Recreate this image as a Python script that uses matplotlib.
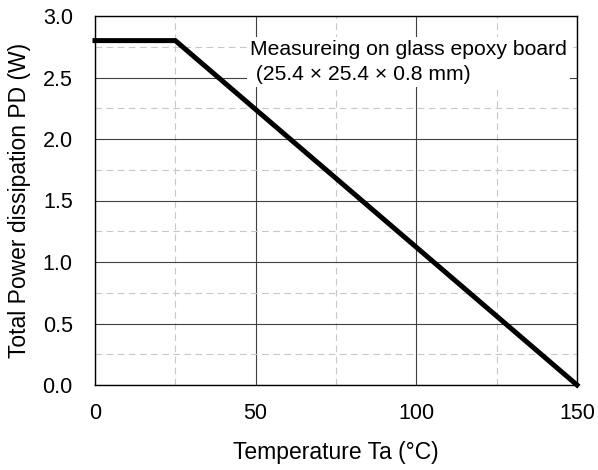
import matplotlib
matplotlib.use("Agg")
import matplotlib.pyplot as plt
from matplotlib.ticker import MultipleLocator

plt.rcParams['font.family'] = ['Liberation Sans', 'DejaVu Sans']

temp = [0, 25, 150]
power = [2.8, 2.8, 0.0]
xticks = [0, 50, 100, 150]
yticks = [0.0, 0.5, 1.0, 1.5, 2.0, 2.5, 3.0]
note = "Measureing on glass epoxy board\n (25.4 × 25.4 × 0.8 mm)"

fig = plt.figure(figsize=(5.98, 4.70), dpi=100)
ax = fig.add_axes([95/598, 1-385/470, (577-95)/598, (385-16)/470])
ax.set_xlim(0, 150)
ax.set_ylim(0, 3.0)
ax.xaxis.set_minor_locator(MultipleLocator(25))
ax.yaxis.set_minor_locator(MultipleLocator(0.25))
ax.set_xticks(xticks)
ax.set_yticks(yticks)
ax.set_xticklabels([str(v) for v in xticks])
ax.set_yticklabels([f"{v:.1f}" for v in yticks])
ax.grid(which='major', color='#404040', linewidth=0.8, linestyle='-')
ax.grid(which='minor', color='#c8c8c8', linewidth=0.8, linestyle=(0, (6, 4)))
ax.set_axisbelow(True)
ax.tick_params(which='both', length=0, labelsize=15.5, colors='black')
ax.tick_params(axis='y', pad=16)
ax.tick_params(axis='x', pad=13)
for s in ax.spines.values():
    s.set_color('black')
    s.set_linewidth(1.0)

ax.plot(temp, power, color='black', linewidth=3.6, solid_joinstyle='miter', clip_on=False, zorder=5)

ax.text(48.2, 2.625, note, fontsize=15.2, va='center', ha='left', linespacing=1.4,
        bbox=dict(facecolor='white', edgecolor='none', pad=2))

ax.set_xlabel("Temperature Ta (°C)", fontsize=16.5, labelpad=12)
ax.set_ylabel("Total Power dissipation PD (W)", fontsize=16.5, labelpad=8)

fig.savefig("out.png", dpi=100)
